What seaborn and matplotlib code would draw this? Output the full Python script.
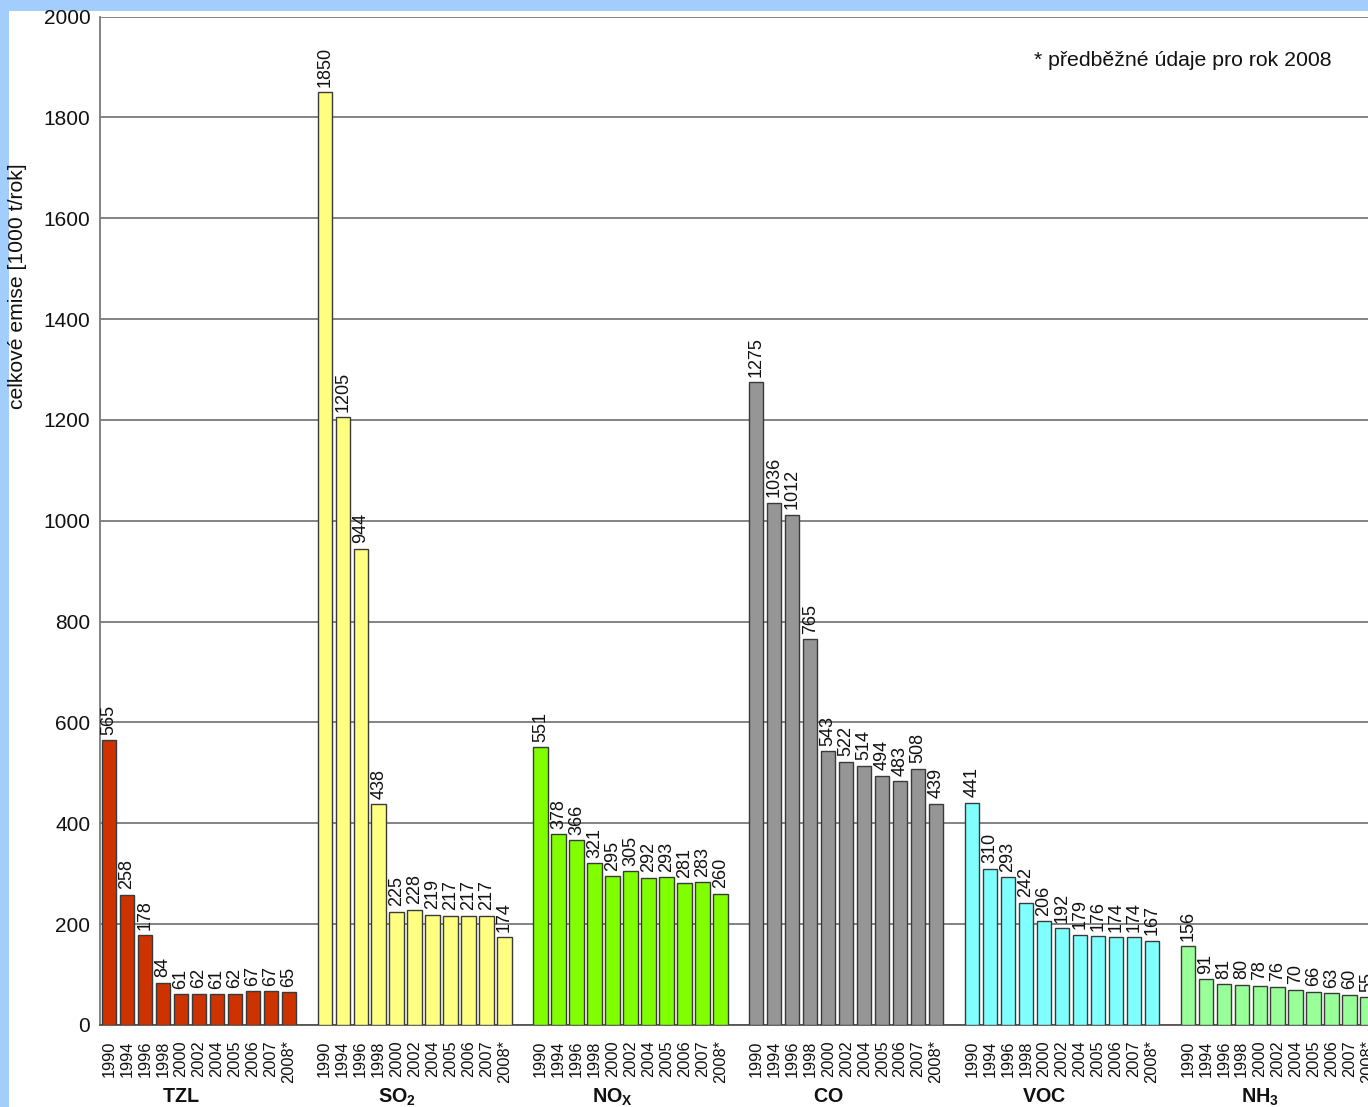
import matplotlib
matplotlib.use("Agg")
import matplotlib.pyplot as plt
import matplotlib.transforms as mtransforms
from matplotlib.patches import Rectangle
import numpy as np
import pandas as pd
import seaborn as sns

# ---------------- data ----------------
years = ["1990", "1994", "1996", "1998", "2000", "2002", "2004", "2005", "2006", "2007", "2008*"]
pollutants = ["TZL", "SO2", "NOx", "CO", "VOC", "NH3"]
group_labels = [r"$\mathbf{TZL}$", r"$\mathbf{SO_2}$", r"$\mathbf{NO_X}$",
                r"$\mathbf{CO}$", r"$\mathbf{VOC}$", r"$\mathbf{NH_3}$"]
tzl = [565, 258, 178, 84, 61, 62, 61, 62, 67, 67, 65]
so2 = [1850, 1205, 944, 438, 225, 228, 219, 217, 217, 217, 174]
nox = [551, 378, 366, 321, 295, 305, 292, 293, 281, 283, 260]
co = [1275, 1036, 1012, 765, 543, 522, 514, 494, 483, 508, 439]
voc = [441, 310, 293, 242, 206, 192, 179, 176, 174, 174, 167]
nh3 = [156, 91, 81, 80, 78, 76, 70, 66, 63, 60, 55]
series = [tzl, so2, nox, co, voc, nh3]
colors = ["#cc3300", "#ffff80", "#80ff00", "#969696", "#80ffff", "#99ff99"]

ylabel = "celkové emise [1000 t/rok]"
note = "* předběžné údaje pro rok 2008"

# ---------------- table ----------------
slots = len(years) + 1
rows = []
for g, (name, vals) in enumerate(zip(pollutants, series)):
    for i, (yr, v) in enumerate(zip(years, vals)):
        rows.append({"pollutant": name, "year": yr, "value": v, "pos": g * slots + i})
df = pd.DataFrame(rows)

# ---------------- style ----------------
sns.set_style("white")
plt.rcParams["font.family"] = ["Liberation Sans", "DejaVu Sans"]
plt.rcParams["mathtext.fontset"] = "custom"
plt.rcParams["mathtext.rm"] = "Liberation Sans"
plt.rcParams["mathtext.bf"] = "Liberation Sans:bold"

W, H = 1368, 1107
fig = plt.figure(figsize=(W / 100, H / 100), dpi=100)
fig.patch.set_facecolor("#a2cdfd")
fig.patches.append(Rectangle((8.5 / W, 0), 1, (H - 11) / H, transform=fig.transFigure,
                             facecolor="white", edgecolor="none", zorder=-10))

slot_px = 17.98
n_slots = slots * len(pollutants)
ax = fig.add_axes([100 / W, (H - 1025) / H, n_slots * slot_px / W, (1025 - 16.5) / H])
ax.set_facecolor("white")

sns.barplot(data=df, x="pos", y="value", hue="pollutant", hue_order=pollutants,
            palette=colors, native_scale=True, width=0.8, dodge=False, saturation=1,
            legend=False, edgecolor="#3a3a3a", linewidth=1.0, ax=ax, zorder=3)

for cont in ax.containers:
    ax.bar_label(cont, fmt="{:.0f}", rotation=90, padding=4, fontsize=13, color="#111111")

ax.set_xlim(-0.5, n_slots - 0.5)
ax.set_ylim(0, 2000)
ax.set_yticks(np.arange(0, 2001, 200))
ax.tick_params(axis="y", length=0, labelsize=15, pad=7, colors="#111111")
ax.grid(axis="y", color="#7a7a7a", linewidth=1.3, zorder=0)
ax.set_axisbelow(True)

ax.set_xticks(df["pos"])
ax.set_xticklabels(df["year"], rotation=90, fontsize=11.8)
ax.tick_params(axis="x", which="major", length=0, pad=11, colors="#111111")
minor = sorted(set(list(df["pos"] - 0.5) + list(df["pos"] + 0.5)))
ax.set_xticks(minor, minor=True)
ax.tick_params(axis="x", which="minor", length=6, width=1, color="#555555", direction="out")
ax.set_xlabel("")
ax.set_ylabel("")

for s in ["top", "right"]:
    ax.spines[s].set_visible(False)
ax.spines["left"].set_color("#7a7a7a")
ax.spines["left"].set_linewidth(1.3)
ax.spines["bottom"].set_color("#555555")
ax.spines["bottom"].set_linewidth(1.3)

trans = mtransforms.blended_transform_factory(ax.transData, fig.transFigure)
for g, lab in enumerate(group_labels):
    ax.text(g * slots + 4, (H - 1097) / H, lab, transform=trans, ha="center", va="center",
            fontsize=14.2, fontweight="bold", color="#111111", clip_on=False)

fig.text(1332 / W, (H - 61) / H, note, ha="right", va="center", fontsize=15.3, color="#111111")
fig.text(18 / W, (H - 286) / H, ylabel, rotation=90, ha="center", va="center",
         fontsize=15.2, color="#111111")

fig.savefig("out.png", dpi=100)
